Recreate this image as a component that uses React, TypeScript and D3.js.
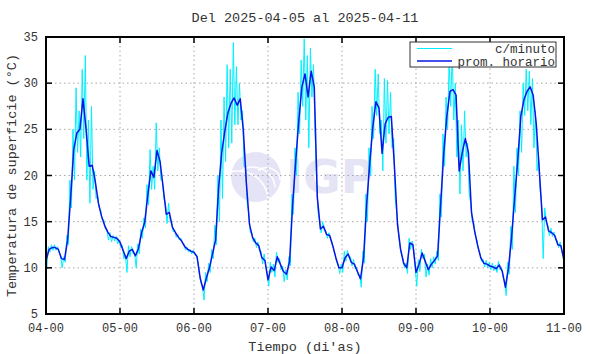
import React, { useEffect, useRef } from 'react';
import * as d3 from 'd3';

// hourly mean surface temperature (°C), hour 0 = 04-00
const promHorario = [
  10.8, 12.0, 12.2, 12.2, 12.0, 11.0, 10.9, 13.0, 17.6, 22.8, 24.6, 25.0, 28.3, 25.0, 21.0, 21.1, 19.3, 17.0, 15.6, 14.6, 13.9, 13.4, 13.3, 13.2,
  12.8, 11.9, 11.0, 11.8, 12.0, 11.3, 12.1, 13.8, 14.9, 17.8, 20.5, 19.8, 22.7, 21.5, 18.7, 15.8, 16.0, 14.4, 13.8, 13.3, 12.9, 12.3, 12.0, 11.8,
  11.7, 11.2, 8.9, 7.6, 8.9, 10.0, 11.5, 13.0, 18.7, 22.5, 24.8, 26.8, 27.8, 28.4, 27.6, 28.3, 24.9, 19.1, 14.7, 13.3, 12.7, 12.4, 11.1, 10.8,
  8.7, 10.1, 9.7, 11.2, 10.4, 9.6, 9.3, 10.7, 16.9, 21.6, 26.0, 29.6, 31.0, 28.5, 31.3, 29.6, 17.6, 14.2, 14.5, 13.6, 13.5, 12.4, 11.1, 10.0,
  10.0, 11.1, 11.5, 10.6, 10.4, 9.6, 8.8, 11.1, 16.9, 21.3, 25.3, 28.0, 27.3, 22.4, 25.6, 26.3, 26.4, 21.0, 14.7, 12.0, 10.5, 10.0, 12.7, 12.5,
  9.5, 10.4, 11.6, 10.7, 9.8, 10.4, 10.8, 11.3, 16.9, 22.4, 26.4, 29.1, 29.3, 28.7, 20.5, 22.5, 24.0, 22.5, 16.0, 14.0, 12.4, 11.1, 10.5, 10.4,
  10.2, 10.1, 9.9, 10.3, 9.6, 7.9, 10.0, 13.3, 17.6, 21.6, 26.4, 28.2, 29.1, 29.6, 28.7, 25.6, 20.5, 15.2, 15.5, 14.0, 13.8, 13.5, 12.5, 12.4,
  10.8,
];

// per-minute readings: highest and lowest value within each hour
const minutoMax = [
  11.2, 12.3, 12.5, 12.5, 12.3, 11.3, 11.2, 13.5, 19.5, 25.0, 29.5, 27.0, 31.5, 33.0, 26.0, 27.5, 20.5, 17.8, 16.2, 15.2, 14.1, 13.8, 13.5, 13.4,
  13.0, 12.4, 11.4, 12.4, 12.3, 11.6, 12.6, 14.2, 15.4, 19.0, 22.8, 21.0, 25.7, 23.0, 19.5, 17.0, 17.0, 14.8, 14.1, 13.6, 13.2, 12.6, 12.2, 12.0,
  11.9, 11.4, 9.3, 8.0, 9.5, 10.5, 12.0, 14.6, 20.0, 26.0, 28.5, 32.0, 31.5, 34.4, 31.8, 30.0, 27.0, 21.0, 16.0, 13.8, 13.2, 12.8, 11.8, 11.5,
  9.3, 10.6, 10.4, 11.7, 11.0, 10.2, 9.8, 11.2, 18.0, 23.0, 29.0, 32.5, 34.8, 33.0, 33.8, 32.0, 19.5, 15.0, 15.0, 14.0, 13.8, 12.8, 11.5, 10.4,
  10.4, 11.8, 11.9, 11.2, 10.9, 10.0, 9.2, 11.8, 18.0, 23.0, 27.5, 31.5, 31.0, 26.0, 30.5, 30.3, 29.0, 24.0, 16.0, 12.5, 11.0, 10.5, 13.2, 12.9,
  10.0, 10.9, 12.0, 11.5, 10.4, 11.0, 11.2, 11.8, 18.0, 24.5, 28.5, 32.5, 33.5, 30.0, 26.0, 25.5, 27.0, 23.5, 17.0, 14.8, 13.0, 11.6, 10.9, 10.8,
  10.6, 10.5, 10.3, 10.7, 10.0, 8.5, 10.6, 14.5, 21.0, 23.0, 27.0, 30.0, 31.5, 31.3, 30.5, 27.0, 22.0, 17.0, 16.5, 14.6, 14.3, 13.9, 13.0, 12.8,
  11.3,
];

const minutoMin = [
  9.9, 11.7, 11.9, 11.9, 11.7, 10.0, 10.6, 12.5, 16.5, 19.5, 22.5, 22.0, 24.0, 19.5, 17.0, 18.5, 17.5, 16.5, 15.2, 14.2, 13.0, 12.8, 12.9, 12.6,
  12.2, 11.0, 9.5, 11.2, 11.5, 10.0, 11.5, 13.2, 14.3, 16.8, 18.5, 18.5, 20.5, 19.5, 17.5, 14.8, 15.0, 13.9, 13.3, 13.0, 12.6, 11.9, 11.7, 11.5,
  11.4, 10.6, 8.4, 6.5, 8.5, 9.5, 11.0, 12.5, 15.0, 17.5, 21.5, 23.0, 23.5, 25.5, 25.5, 26.0, 21.0, 17.0, 13.8, 12.8, 12.2, 11.8, 10.4, 10.2,
  8.0, 9.5, 9.0, 10.6, 9.8, 8.5, 8.7, 10.2, 15.8, 20.0, 24.5, 27.5, 26.0, 23.0, 28.5, 25.0, 16.0, 13.8, 14.0, 13.2, 13.1, 12.0, 10.7, 9.4,
  9.5, 10.7, 11.1, 10.2, 9.9, 9.2, 7.9, 10.5, 15.0, 20.0, 24.0, 26.5, 24.5, 20.5, 23.5, 24.5, 23.0, 17.5, 14.0, 11.5, 10.0, 9.4, 12.0, 12.0,
  8.0, 9.6, 11.0, 9.0, 9.2, 10.0, 10.4, 10.8, 15.5, 21.0, 25.0, 27.5, 26.0, 22.0, 18.0, 20.5, 22.0, 18.0, 15.0, 13.5, 12.0, 10.7, 10.1, 10.0,
  9.8, 9.7, 9.5, 9.8, 9.0, 7.0, 9.3, 12.0, 16.0, 20.0, 22.5, 26.5, 27.0, 25.5, 23.0, 20.5, 18.5, 11.0, 15.0, 13.5, 13.4, 13.0, 12.2, 11.8,
  10.0,
];

const diasTicks = ['04-00', '05-00', '06-00', '07-00', '08-00', '09-00', '10-00', '11-00'];
const tempTicks = [5, 10, 15, 20, 25, 30, 35];

const W = 590;
const H = 354;
const mono = '"Liberation Mono", "DejaVu Sans Mono", monospace';

export default function App() {
  const svgRef = useRef<SVGSVGElement>(null);

  useEffect(() => {
    if (!svgRef.current) return;
    const svg = d3.select(svgRef.current);
    svg.selectAll('*').remove();

    const left = 46, right = 564, top = 37, bottom = 314;
    const x = d3.scaleLinear().domain([0, 168]).range([left, right]);
    const y = d3.scaleLinear().domain([5, 35]).range([bottom, top]);

    // IGP watermark
    const wm = svg.append('g').attr('opacity', 0.9);
    wm.append('circle').attr('cx', 256).attr('cy', 177).attr('r', 25).attr('fill', '#e2e2f6');
    wm.append('path')
      .attr('d', 'M236,192 A22,22 0 0 0 262,201 L256,202 A25,25 0 0 1 233,186 Z')
      .attr('fill', '#e8f2fc');
    [[250, 150, 30], [262, 152, 22], [272, 158, 14]].forEach(([cx, cy, r]) => {
      wm.append('path')
        .attr('d', `M${cx - r},${cy + r * 0.9} A${r},${r} 0 0 1 ${cx + r * 0.6},${cy + r * 1.6}`)
        .attr('fill', 'none').attr('stroke', '#fff').attr('stroke-width', 1.5);
    });
    wm.append('text')
      .attr('x', 286).attr('y', 193)
      .attr('font-family', '"DejaVu Sans", sans-serif').attr('font-weight', 'bold')
      .attr('font-size', 46).attr('fill', '#e2e2f4')
      .text('IGP');

    // grid
    const grid = svg.append('g').attr('stroke', '#a8a8a8').attr('stroke-width', 1).attr('stroke-dasharray', '1.5,3');
    diasTicks.forEach((_, i) => {
      if (i === 0 || i === diasTicks.length - 1) return;
      grid.append('line').attr('x1', x(i * 24)).attr('x2', x(i * 24)).attr('y1', top).attr('y2', bottom);
    });
    tempTicks.forEach(t => {
      if (t === 5 || t === 35) return;
      grid.append('line').attr('x1', left).attr('x2', right).attr('y1', y(t)).attr('y2', y(t));
    });

    // per-minute series as jagged line between hourly extremes
    const pts: [number, number][] = [];
    minutoMax.forEach((hi, h) => {
      pts.push([h - 0.25, hi]);
      pts.push([h + 0.25, minutoMin[h]]);
    });
    const clipped = pts.map(([h, v]) => [Math.max(0, Math.min(168, h)), v] as [number, number]);
    const line = d3.line<[number, number]>().x(d => x(d[0])).y(d => y(d[1]));
    svg.append('path').attr('d', line(clipped))
      .attr('fill', 'none').attr('stroke', '#00f0ff').attr('stroke-width', 1);

    svg.append('path')
      .attr('d', line(promHorario.map((v, h) => [h, v] as [number, number])))
      .attr('fill', 'none').attr('stroke', '#0a14e6').attr('stroke-width', 1.5)
      .attr('stroke-linejoin', 'round');

    // frame and ticks
    svg.append('rect').attr('x', left).attr('y', top).attr('width', right - left).attr('height', bottom - top)
      .attr('fill', 'none').attr('stroke', '#000').attr('stroke-width', 2);
    const ticks = svg.append('g').attr('stroke', '#000').attr('stroke-width', 1.5);
    diasTicks.forEach((lab, i) => {
      const xx = x(i * 24);
      ticks.append('line').attr('x1', xx).attr('x2', xx).attr('y1', bottom).attr('y2', bottom - 6);
      ticks.append('line').attr('x1', xx).attr('x2', xx).attr('y1', top).attr('y2', top + 6);
      svg.append('text').attr('x', xx).attr('y', 332).attr('text-anchor', 'middle')
        .attr('font-family', mono).attr('font-size', 12).attr('fill', '#333').text(lab);
    });
    tempTicks.forEach(t => {
      const yy = y(t);
      ticks.append('line').attr('x1', left).attr('x2', left + 6).attr('y1', yy).attr('y2', yy);
      ticks.append('line').attr('x1', right).attr('x2', right - 6).attr('y1', yy).attr('y2', yy);
      svg.append('text').attr('x', 38).attr('y', yy + 4).attr('text-anchor', 'end')
        .attr('font-family', mono).attr('font-size', 12).attr('fill', '#333').text(String(t));
    });

    // titles
    svg.append('text').attr('x', 305).attr('y', 22).attr('text-anchor', 'middle')
      .attr('font-family', mono).attr('font-size', 13.5).attr('fill', '#333')
      .text('Del 2025-04-05 al 2025-04-11');
    svg.append('text').attr('x', 305).attr('y', 351).attr('text-anchor', 'middle')
      .attr('font-family', mono).attr('font-size', 13.5).attr('fill', '#333')
      .text("Tiempo (di'as)");
    svg.append('text').attr('transform', `translate(16,${(top + bottom) / 2}) rotate(-90)`)
      .attr('text-anchor', 'middle')
      .attr('font-family', mono).attr('font-size', 13.5).attr('fill', '#333')
      .text('Temperatura de superficie (°C)');

    // legend
    const lg = svg.append('g');
    lg.append('rect').attr('x', 410).attr('y', 42).attr('width', 146).attr('height', 25)
      .attr('fill', '#fff').attr('stroke', '#333').attr('stroke-width', 1);
    lg.append('line').attr('x1', 417).attr('x2', 452).attr('y1', 48.5).attr('y2', 48.5)
      .attr('stroke', '#00f0ff').attr('stroke-width', 1);
    lg.append('line').attr('x1', 417).attr('x2', 452).attr('y1', 61).attr('y2', 61)
      .attr('stroke', '#0a14e6').attr('stroke-width', 1.5);
    lg.append('text').attr('x', 555).attr('y', 53).attr('text-anchor', 'end')
      .attr('font-family', mono).attr('font-size', 12.5).attr('fill', '#333').text('c/minuto');
    lg.append('text').attr('x', 555).attr('y', 65.5).attr('text-anchor', 'end')
      .attr('font-family', mono).attr('font-size', 12.5).attr('fill', '#333').text('prom. horario');
  }, []);

  return (
    <svg ref={svgRef} width={W} height={H}
      style={{ position: 'absolute', left: 0, top: 0, background: '#fff', display: 'block' }} />
  );
}
